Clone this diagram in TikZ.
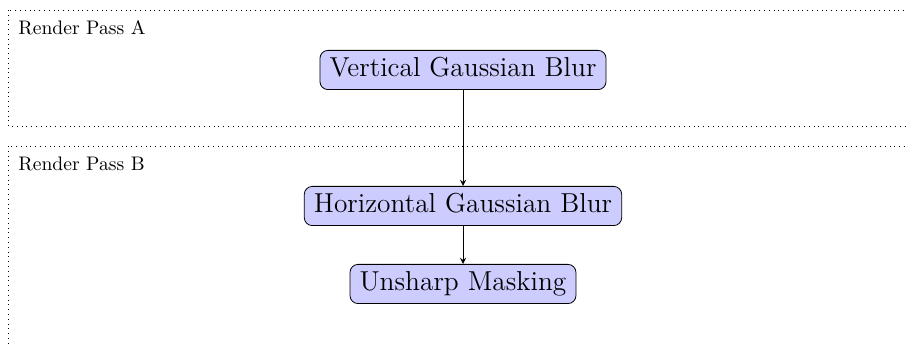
\documentclass[tikz,border=0pt]{standalone}

\begin{document}
\begin{tikzpicture}[auto,x=1pt,y=1pt,>=stealth,
    stage node/.style={rectangle,rounded corners=4pt,fill=blue!20,draw,
      font=\fontsize{13.7}{16}\selectfont,inner xsep=4.8pt,inner ysep=3pt,
      text height=10.2pt,text depth=3.4pt},
    pass box/.style={draw,dotted},
    pass label/.style={anchor=west,inner sep=0pt,font=\fontsize{9.8}{12}\selectfont}]
    \useasboundingbox (0,0) rectangle (453,-173.5);
    \clip (0,0) rectangle (453,-173.5);

    % render passes
    \draw[pass box] (4,-5) rectangle (470,-63);
    \draw[pass box] (4,-73) rectangle (470,-190);
    \node[pass label] (passA) at (9,-14) {Render Pass A};
    \node[pass label] (passB) at (9,-82) {Render Pass B};

    \node[stage node] (vblur) at (231.5,-35) {Vertical Gaussian Blur};
    \node[stage node] (hblur) at (231.5,-103) {Horizontal Gaussian Blur};
    \node[stage node] (unsharp) at (231.5,-142) {Unsharp Masking};

    \path [->] (vblur) edge (hblur)
               (hblur) edge (unsharp);
\end{tikzpicture}
\end{document}
